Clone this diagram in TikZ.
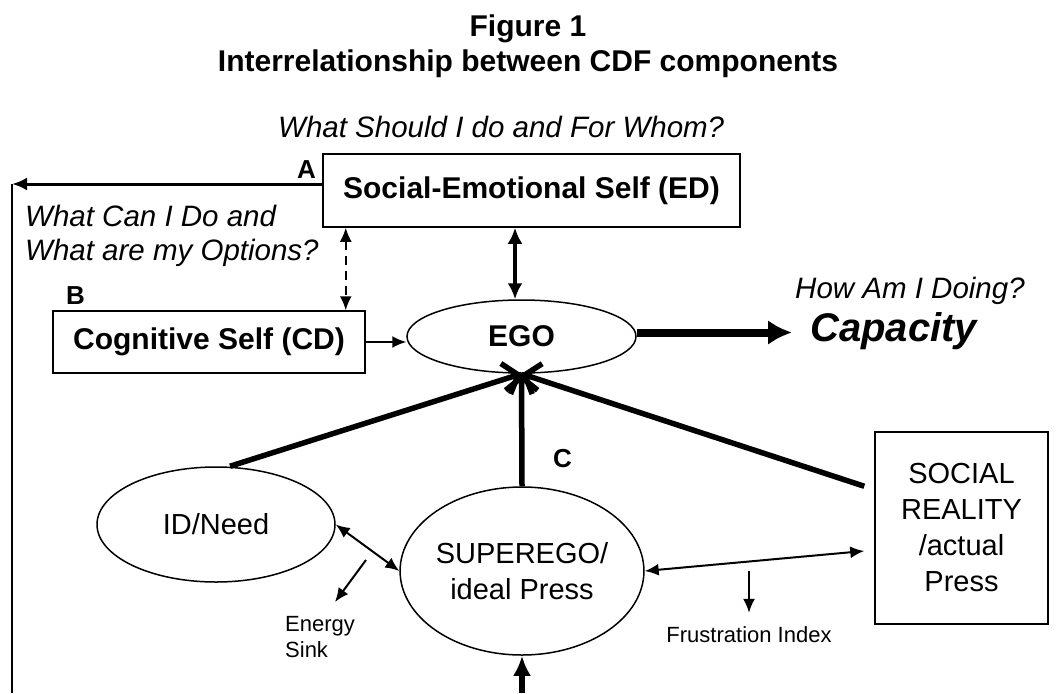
\documentclass[tikz,border=0pt]{standalone}
\usepackage{fontspec}
\setmainfont{Liberation Sans}
\usetikzlibrary{shapes,arrows,arrows.meta}
\tikzstyle{block} = [rectangle, draw, line width=1.5pt, inner sep=0pt, align=center, font=\fontsize{30}{36}\selectfont\bfseries]
\tikzstyle{oval} = [ellipse, draw, line width=1.5pt, inner sep=0pt, align=center, font=\fontsize{29}{36}\selectfont]
\tikzstyle{question} = [inner sep=0pt, anchor=base west, font=\fontsize{29.5}{34}\selectfont\itshape]
\tikzstyle{letter} = [inner sep=0pt, anchor=base west, font=\fontsize{26}{30}\selectfont\bfseries]
\tikzstyle{note} = [inner sep=0pt, align=left, font=\fontsize{22}{26}\selectfont]
\tikzstyle{line} = [draw, line width=2pt, -{Latex[length=14pt,width=12pt]}]
\tikzstyle{twoway} = [draw, line width=2pt, {Latex[length=14pt,width=12pt]}-{Latex[length=14pt,width=12pt]}]
\tikzstyle{heavy} = [draw, line width=5.5pt, -{Straight Barb[length=13pt,width=32pt]}]

\begin{document}
\begin{tikzpicture}[x=1pt, y=-1pt]
	\useasboundingbox (0,0) rectangle (1056,693);

	% title
	\node [inner sep=0pt, anchor=base, font=\fontsize{30}{34}\selectfont\bfseries] (fig) at (528,37) {Figure 1};
	\node [inner sep=0pt, anchor=base, font=\fontsize{30}{34}\selectfont\bfseries] (title) at (528,71) {Interrelationship between CDF components};

	% selves and ego
	\node [block, minimum width=417pt, minimum height=73pt] (ed) at (531.5,190.5) {Social-Emotional Self (ED)};
	\node [block, minimum width=312pt, minimum height=62pt] (cd) at (209,342) {Cognitive Self (CD)};
	\node [oval, minimum width=229pt, minimum height=73pt, font=\fontsize{30}{36}\selectfont\bfseries] (ego) at (521.5,336.5) {EGO};
	\node [oval, minimum width=238pt, minimum height=115pt] (id) at (216,524.5) {ID/Need};
	\node [oval, minimum width=230pt, minimum height=168pt] (super) at (522,571) {SUPEREGO/\\ideal Press};
	\node [block, minimum width=173pt, minimum height=192pt, font=\fontsize{29}{36}\selectfont] (social) at (961.5,528) {SOCIAL\\REALITY\\/actual\\Press};

	% questions and labels
	\node [question] (whom) at (278,137) {What Should I do and For Whom?};
	\node [question] (cando) at (25,226) {What Can I Do and};
	\node [question] (options) at (25,260) {What are my Options?};
	\node [question] (doing) at (795,298) {How Am I Doing?};
	\node [inner sep=0pt, anchor=base west, font=\fontsize{40}{44}\selectfont\bfseries\itshape] (cap) at (810,341) {Capacity};
	\node [letter] (la) at (297,178) {A};
	\node [letter] (lb) at (66,304) {B};
	\node [letter] (lc) at (553,467) {C};
	\node [note, anchor=north west] (sink) at (285,616) {Energy\\Sink};
	\node [note, anchor=base] (frust) at (749,642) {Frustration Index};

	\coordinate (corner) at (12,184);
	\coordinate (floor) at (12,693);
	\coordinate (esrc) at (366,560);
	\coordinate (etip) at (335,602);
	\coordinate (press) at (522,693);

	% feedback loop
	\path [draw, line width=3pt, -{Latex[length=15pt,width=13pt]}] ([yshift=6.5pt]ed.west) -- (corner);
	\path [draw, line width=1.8pt] (corner) -- (floor);

	% links to ego
	\path [draw, line width=4pt, {Latex[length=16pt,width=15pt]}-{Latex[length=16pt,width=15pt]}] ([xshift=-6.5pt]ego.north |- ed.south) -- ([xshift=-6.5pt]ego.north);
	\path [twoway, dashed, dash pattern=on 9pt off 6pt] ([xshift=-20pt]cd.north east |- ed.south) -- ([xshift=-20pt]cd.north east);
	\path [line] (cd.east) -- (cd.east -| ego.west);
	\path [draw, line width=8pt, -{Latex[length=24pt,width=25pt]}, shorten >=18pt] ([yshift=4pt]ego.east) -- ([yshift=4pt]ego.east -| cap.west);

	\path [heavy] ([xshift=14pt]id.north) -- (ego.south);
	\path [heavy] (super.north) -- (ego.south);
	\path [heavy] ([shift={(-10pt,-55pt)}]social.north west) -- (ego.south);

	% links to superego
	\path [twoway] (id.east) -- (super.west);
	\path [line] (esrc) -- (etip);
	\path [twoway] (super.east) -- ([shift={(-10pt,-23pt)}]social.west);
	\path [line] (frust.north |- super.east) -- ([yshift=13pt]frust.north);
	\path [draw, line width=6pt, -{Latex[length=20pt,width=18pt]}] (press) -- (super.south);
\end{tikzpicture}
\end{document}
